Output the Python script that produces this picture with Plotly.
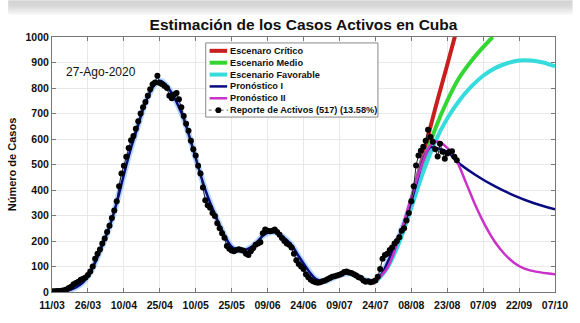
import plotly.graph_objects as go
import pandas as pd

START = "2020-03-11"

# Reported active cases, daily from 11/03/2020 to 27/08/2020
activos = [3, 3, 4, 4, 5, 7, 10, 16, 21, 30, 35, 40, 48, 52, 57, 67, 80, 100, 130, 150,
           167, 190, 210, 235, 260, 290, 320, 356, 415, 465, 495, 530, 565, 595, 612, 640,
           670, 700, 725, 745, 770, 795, 815, 822, 848, 820, 815, 808, 800, 770, 760, 775,
           780, 756, 725, 690, 660, 632, 593, 560, 535, 495, 465, 410, 360, 340, 330, 310,
           298, 270, 250, 230, 213, 180, 170, 163, 160, 165, 168, 165, 162, 150, 145, 160,
           172, 185, 190, 195, 230, 245, 240, 238, 240, 245, 235, 225, 212, 200, 190, 185,
           175, 150, 125, 110, 100, 90, 70, 58, 48, 42, 38, 36, 38, 42, 45, 50, 55, 60,
           62, 65, 68, 72, 78, 80, 76, 75, 70, 65, 58, 55, 45, 40, 42, 38, 40, 45, 60, 90,
           130, 145, 150, 165, 175, 190, 200, 215, 240, 250, 280, 310, 356, 415, 496, 535,
           554, 570, 593, 636, 608, 589, 560, 531, 581, 550, 523, 543, 550, 552, 530, 517]

# Model curves: (day offset from START, value)
pron1_days = [0, 5, 8, 10, 13, 15, 18, 20, 23, 25, 28, 30, 33, 35, 38, 40, 43, 45, 47, 50,
              53, 55, 58, 60, 63, 65, 68, 70, 73, 75, 78, 80, 83, 85, 88, 90, 93, 96, 100,
              103, 105, 108, 110, 113, 115, 118, 120, 123, 125, 128, 130, 133, 135, 138,
              140, 143, 145, 148, 150, 153, 155, 158, 160, 165, 169, 177, 185, 193, 201, 210]
pron1_vals = [0, 3, 10, 18, 38, 62, 115, 160, 230, 285, 385, 460, 565, 625, 715, 765, 815,
              828, 818, 780, 725, 680, 590, 525, 430, 375, 305, 262, 205, 178, 162, 162, 175,
              190, 220, 232, 235, 220, 185, 140, 112, 72, 52, 42, 45, 58, 66, 73, 72, 60, 50,
              42, 45, 75, 115, 175, 220, 295, 355, 455, 520, 568, 565, 550, 512, 458, 414,
              378, 349, 324]

pron2_days = [135, 140, 145, 150, 155, 158, 161, 165, 169, 173, 177, 181, 185, 189, 193,
              197, 202, 210]
pron2_vals = [42, 95, 215, 370, 515, 575, 590, 565, 512, 425, 335, 258, 195, 148, 114, 93,
              80, 70]

critico_days = [135, 140, 145, 150, 155, 160, 165, 169]
critico_vals = [42, 100, 210, 360, 540, 720, 890, 1030]

medio_days = [135, 140, 145, 150, 155, 160, 165, 170, 175, 180, 184]
medio_vals = [42, 100, 205, 345, 500, 640, 750, 840, 905, 960, 1000]

favorable_days = [135, 140, 145, 150, 155, 160, 165, 170, 175, 180, 185, 190, 195, 200,
                  205, 210]
favorable_vals = [42, 95, 195, 330, 470, 590, 680, 750, 805, 848, 878, 897, 908, 908, 900,
                  885]

tick_labels = ["11/03", "26/03", "10/04", "25/04", "10/05", "25/05", "09/06", "24/06",
               "09/07", "24/07", "08/08", "23/08", "07/09", "22/09", "07/10"]

series_names = ["Escenaro Crítico", "Escenario Medio", "Escenario Favorable",
                "Pronóstico I", "Pronóstico II", "Reporte de Activos (517) (13.58%)"]
series_colors = ["#C81E1E", "#33D633", "#36DCDC", "#0A0A80", "#C832C8", "#555555"]
series_widths = [4, 4, 4, 2.5, 2.5, 1]

start = pd.Timestamp(START)


def to_dates(days):
    return [start + pd.Timedelta(days=d) for d in days]


act_dates = to_dates(range(len(activos)))
tick_vals = [pd.Timestamp(f"2020-{t[3:5]}-{t[0:2]}") for t in tick_labels]

FONT = "Liberation Sans"
W, H = 580, 323
ML, MR, MT, MB = 45, 18, 37, 28
PW, PH = W - ML - MR, H - MT - MB


def px(x):
    return (x - ML) / PW


def py(y):
    return (H - MB - y) / PH


fig = go.Figure()

curves = [(critico_days, critico_vals), (medio_days, medio_vals),
          (favorable_days, favorable_vals)]
for i, (dd, vv) in enumerate(curves):
    fig.add_trace(go.Scatter(x=to_dates(dd), y=vv, mode="lines", name=series_names[i],
                             line=dict(color=series_colors[i], width=series_widths[i],
                                       shape="spline")))
# light glow under the fit
fig.add_trace(go.Scatter(x=to_dates(pron1_days[:62]), y=pron1_vals[:62], mode="lines",
                         hoverinfo="skip",
                         line=dict(color="rgba(90,170,255,0.45)", width=6, shape="spline")))
fig.add_trace(go.Scatter(x=to_dates(pron1_days), y=pron1_vals, mode="lines",
                         name=series_names[3],
                         line=dict(color=series_colors[3], width=series_widths[3],
                                   shape="spline")))
fig.add_trace(go.Scatter(x=to_dates(pron2_days), y=pron2_vals, mode="lines",
                         name=series_names[4],
                         line=dict(color=series_colors[4], width=series_widths[4],
                                   shape="spline")))
fig.add_trace(go.Scatter(x=act_dates, y=activos, mode="lines+markers", name=series_names[5],
                         line=dict(color="#222222", width=1),
                         marker=dict(color="black", size=6)))

shapes = []
# soft grey band at the very top (as in the photographed reference)
for k in range(16):
    g = int(196 + (255 - 196) * (k / 15.0) ** 1.5)
    shapes.append(dict(type="rect", xref="paper", yref="paper", x0=px(0), x1=px(W),
                       y0=py(k + 1), y1=py(k), layer="below",
                       fillcolor="rgb(%d,%d,%d)" % (g, g, g), line=dict(width=0)))

# Custom compact legend (MATLAB style)
shapes.append(dict(type="rect", xref="paper", yref="paper", x0=px(203), x1=px(380),
                   y0=py(118), y1=py(43), fillcolor="white",
                   line=dict(color="#888888", width=1), layer="above"))
annotations = []
row_y = [51, 63, 75, 87, 99, 111]
for i, name in enumerate(series_names):
    yy = py(row_y[i])
    if i < 5:
        shapes.append(dict(type="line", xref="paper", yref="paper", x0=px(207), x1=px(225),
                           y0=yy, y1=yy, layer="above",
                           line=dict(color=series_colors[i], width=series_widths[i])))
    else:
        shapes.append(dict(type="line", xref="paper", yref="paper", x0=px(206), x1=px(226),
                           y0=yy, y1=yy, layer="above",
                           line=dict(color="#666666", width=1, dash="dot")))
        shapes.append(dict(type="circle", xref="paper", yref="paper", x0=px(213), x1=px(219),
                           y0=py(row_y[i] + 3), y1=py(row_y[i] - 3), layer="above",
                           fillcolor="black", line=dict(color="black", width=0)))
    annotations.append(dict(text="<b>%s</b>" % name, x=px(226), y=yy, xref="paper",
                            yref="paper", xanchor="left", yanchor="middle", showarrow=False,
                            font=dict(size=9.2, family=FONT, color="#111111")))

annotations.append(dict(text="27-Ago-2020", x=px(57), y=py(72), xref="paper", yref="paper",
                        xanchor="left", yanchor="middle", showarrow=False,
                        font=dict(size=12, family=FONT, color="#111111")))

fig.update_layout(
    width=W, height=H,
    margin=dict(l=ML, r=MR, t=MT, b=MB),
    paper_bgcolor="white", plot_bgcolor="white",
    font=dict(family=FONT, color="#111111"),
    title=dict(text="<b>Estimación de los Casos Activos en Cuba</b>", x=0.5, xref="paper",
               xanchor="center", y=1 - 25 / H, yanchor="middle",
               font=dict(size=15.5, family=FONT, color="#111111")),
    showlegend=False,
    shapes=shapes,
    annotations=annotations,
)

fig.update_xaxes(range=[start, start + pd.Timedelta(days=210)], tickvals=tick_vals,
                 ticktext=["<b>%s</b>" % t for t in tick_labels],
                 tickfont=dict(size=10.5, family=FONT), showgrid=True, gridcolor="#E8E8E8",
                 showline=True, linecolor="#777777", mirror="ticks", ticks="inside",
                 ticklen=4, tickcolor="#777777", zeroline=False, ticklabelstandoff=3)
fig.update_yaxes(range=[0, 1000], dtick=100, tickfont=dict(size=10.5, family=FONT),
                 tickprefix="<b>", ticksuffix="</b>",
                 title=dict(text="<b>Número de Casos</b>", font=dict(size=11, family=FONT),
                            standoff=6),
                 showgrid=True, gridcolor="#E8E8E8", showline=True, linecolor="#777777",
                 mirror="ticks", ticks="inside", ticklen=4, tickcolor="#777777",
                 zeroline=False)

fig.write_html("out.html")
